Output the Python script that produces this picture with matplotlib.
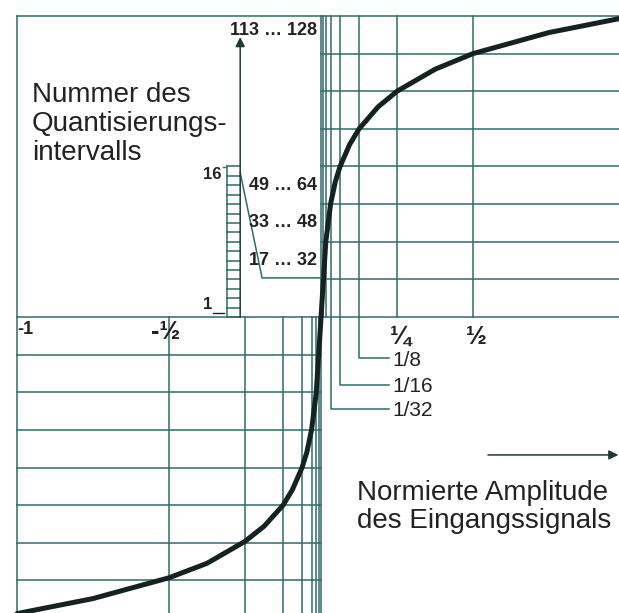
import matplotlib.pyplot as plt

plt.rcParams['font.family'] = ['Liberation Sans', 'DejaVu Sans']

# Segmentgrenzen (Eingang) und Stufen (Ausgang) der 13-Segment-Kennlinie
seg_x = [1/128, 1/64, 1/32, 1/16, 1/8, 1/4, 1/2]
seg_y = [1/8, 2/8, 3/8, 4/8, 5/8, 6/8, 7/8, 1]

# Kennlinie (negativer und positiver Ast)
curve_x = [-1, -0.75, -1/2, -0.375, -1/4, -0.1875, -1/8, -0.094, -1/16, -0.047,
           -1/32, -1/64, -1/128, 0, 1/128, 1/64, 1/32, 0.047, 1/16, 0.094,
           1/8, 0.1875, 1/4, 0.375, 1/2, 0.75, 1]
curve_y = [-0.985, -0.935, -0.866, -0.818, -0.745, -0.695, -0.625, -0.573, -0.5, -0.45,
           -0.375, -0.25, -0.125, 0, 0.125, 0.25, 0.375, 0.45, 0.5, 0.573,
           0.625, 0.698, 0.75, 0.823, 0.875, 0.945, 0.995]

# Beschriftungen
neg_ticks = [-1, -1/2]
neg_labels = ['-1', '-½']
pos_ticks = [1/4, 1/2]
pos_labels = ['¼', '½']
leader_x = [1/8, 1/16, 1/32]
leader_labels = ['1/8', '1/16', '1/32']
interval_seg = [1, 2, 3, 7]
interval_labels = ['17 … 32', '33 … 48', '49 … 64', '113 … 128']
n_steps = 16

gc = '#2f6b6b'
lw = 1.1
tc = '#222222'

fig = plt.figure(figsize=(6.19, 6.13), dpi=100)
ax = fig.add_axes([0, 0, 1, 1])
ax.set_xlim(-1.056, 0.980)
ax.set_ylim(-0.983, 1.053)
ax.axis('off')

# Rahmen und Achsen
ax.plot([-1, 0], [1, 1], color=gc, lw=lw)
ax.plot([-1, -1], [-1.1, 1], color=gc, lw=lw)
ax.plot([0, 0], [-1.1, 1], color=gc, lw=lw)
ax.plot([-1, 1.1], [0, 0], color=gc, lw=lw)

# Raster oben rechts
for yv in seg_y:
    ax.plot([0, 1.1], [yv, yv], color=gc, lw=lw)
for xv in seg_x:
    ax.plot([xv, xv], [0, 1], color=gc, lw=lw)

# Raster unten links
for yv in seg_y:
    ax.plot([-1, 0], [-yv, -yv], color=gc, lw=lw)
for xv in seg_x:
    ax.plot([-xv, -xv], [-1.1, 0], color=gc, lw=lw)

# Kennlinie
ax.plot(curve_x, curve_y, color='#142222', lw=3.6, solid_capstyle='round',
        solid_joinstyle='round')

# Treppe der Quantisierungsintervalle
sx0, sx1 = -0.309, -0.266
ax.plot([sx0, sx0], [0, 0.5], color=gc, lw=lw)
for i in range(n_steps + 1):
    yv = 0.5 * i / n_steps
    ax.plot([sx0, sx1], [yv, yv], color=gc, lw=lw)
ax.annotate('', xy=(sx1, 0.93), xytext=(sx1, 0),
            arrowprops=dict(arrowstyle='-|>', color='#1d3a3a', lw=lw,
                            mutation_scale=14, shrinkA=0, shrinkB=0))
ax.plot([sx1, -0.194, 0], [0.48, 0.13, 0.13], color=gc, lw=lw)

ax.text(-0.327, 0.472, '16', ha='right', va='center', fontsize=12,
        fontweight='bold', color=tc)
ax.plot([-0.322, -0.315], [0.497, 0.497], color=gc, lw=1)
ax.text(-0.357, 0.04, '1', ha='right', va='center', fontsize=12,
        fontweight='bold', color=tc)
ax.plot([-0.355, -0.319], [0.014, 0.014], color=tc, lw=1)

for k, lab in zip(interval_seg, interval_labels):
    ax.text(-0.012, (k + 0.5) / 8 + (0.013 if k == 7 else 0), lab,
            ha='right', va='center', fontsize=13, fontweight='bold', color=tc)

# Achsbeschriftungen
ax.text(neg_ticks[0], -0.043, neg_labels[0], ha='left', va='center',
        fontsize=13, fontweight='bold', color=tc)
ax.text(neg_ticks[1] - 0.012, -0.05, neg_labels[1], ha='center', va='center',
        fontsize=18, fontweight='bold', color=tc)
for xv, lab in zip(pos_ticks, pos_labels):
    ax.text(xv + 0.01, -0.066, lab, ha='center', va='center', fontsize=18,
            fontweight='bold', color=tc)

leader_y = [-0.137, -0.226, -0.306]
for xv, yv, lab in zip(leader_x, leader_y, leader_labels):
    ax.plot([xv, xv, 0.224], [0, yv, yv], color=gc, lw=lw)
    ax.text(0.235, yv - 0.006, lab, ha='left', va='center', fontsize=15,
            color=tc)

ax.annotate('', xy=(0.978, -0.458), xytext=(0.549, -0.458),
            arrowprops=dict(arrowstyle='-|>', color='#1d3a3a', lw=lw,
                            mutation_scale=14, shrinkA=0, shrinkB=0))

ax.text(-0.951, 0.782, 'Nummer des\nQuantisierungs-\nintervalls', ha='left',
        va='top', fontsize=20, linespacing=1.17, color=tc)
ax.text(0.118, -0.54, 'Normierte Amplitude\ndes Eingangssignals', ha='left',
        va='top', fontsize=20, linespacing=1.13, color=tc)

fig.savefig('out.png', dpi=100, facecolor='white')
